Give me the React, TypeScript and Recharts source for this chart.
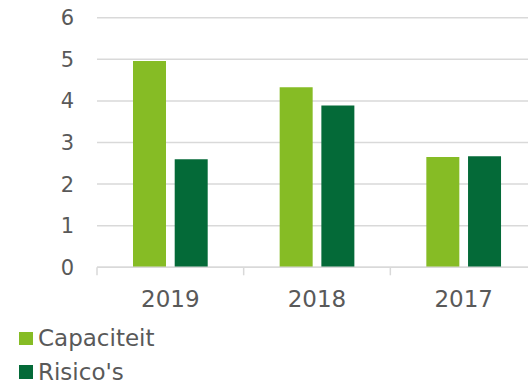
import { BarChart, Bar, XAxis, YAxis, CartesianGrid, Legend } from 'recharts';

const years = ['2019', '2018', '2017'];
const capaciteit = [4.96, 4.33, 2.65];
const risicos = [2.6, 3.89, 2.67];
const yTicks = [0, 1, 2, 3, 4, 5, 6];

const LIGHT = '#86BC25';
const DARK = '#046A38';
const TEXT = '#595959';
const GRID = '#d9d9d9';
const FONT = 'Verdana, "DejaVu Sans", sans-serif';

const chartData = years.map((year, i) => ({
  year,
  Capaciteit: capaciteit[i],
  "Risico's": risicos[i],
}));

function XTick(props: any) {
  const { x, y, payload } = props;
  const half = payload.offset ?? 440 / 6;
  return (
    <g>
      <line x1={x - half} x2={x - half} y1={y} y2={y + 8} stroke={GRID} strokeWidth={1.5} />
      <text x={x} y={y + 40} textAnchor="middle" fill={TEXT} fontSize={23} fontFamily={FONT}>
        {payload.value}
      </text>
    </g>
  );
}

function LegendBox() {
  const items = [
    { name: 'Capaciteit', color: LIGHT },
    { name: "Risico's", color: DARK },
  ];
  return (
    <div style={{ position: 'relative', width: 200, height: 80 }}>
      {items.map((item, i) => (
        <div key={item.name}>
          <div
            style={{
              position: 'absolute',
              left: 19.3,
              top: 28.7 + i * 33.5,
              width: 14,
              height: 13.5,
              background: item.color,
            }}
          />
          <div
            style={{
              position: 'absolute',
              left: 38,
              top: 24 + i * 33.5,
              fontSize: 23,
              lineHeight: '23px',
              fontFamily: FONT,
              color: TEXT,
              whiteSpace: 'nowrap',
            }}
          >
            {item.name}
          </div>
        </div>
      ))}
    </div>
  );
}

export default function App() {
  return (
    <div style={{ position: 'absolute', left: 0, top: 0, width: 528, height: 383, overflow: 'hidden', background: '#fff' }}>
      <BarChart
        width={537}
        height={383}
        data={chartData}
        margin={{ top: 17.7, right: 0, bottom: 0, left: 0 }}
        barGap={8.7}
        barSize={33}
      >
        <CartesianGrid vertical={false} stroke={GRID} strokeWidth={1.5} />
        <YAxis
          width={97}
          domain={[0, 6]}
          ticks={yTicks}
          axisLine={false}
          tickLine={false}
          tickSize={0}
          tickMargin={23}
          tick={{ fill: TEXT, fontSize: 21, fontFamily: FONT }}
        />
        <XAxis
          dataKey="year"
          height={35.7}
          axisLine={{ stroke: GRID, strokeWidth: 1.5 }}
          tickLine={false}
          tickSize={0}
          tickMargin={0}
          tick={<XTick />}
          interval={0}
        />
        <Legend
          verticalAlign="bottom"
          align="left"
          height={80}
          wrapperStyle={{ height: 80 }}
          content={() => <LegendBox />}
        />
        <Bar dataKey="Capaciteit" fill={LIGHT} isAnimationActive={false} />
        <Bar dataKey="Risico's" fill={DARK} isAnimationActive={false} />
      </BarChart>
    </div>
  );
}
